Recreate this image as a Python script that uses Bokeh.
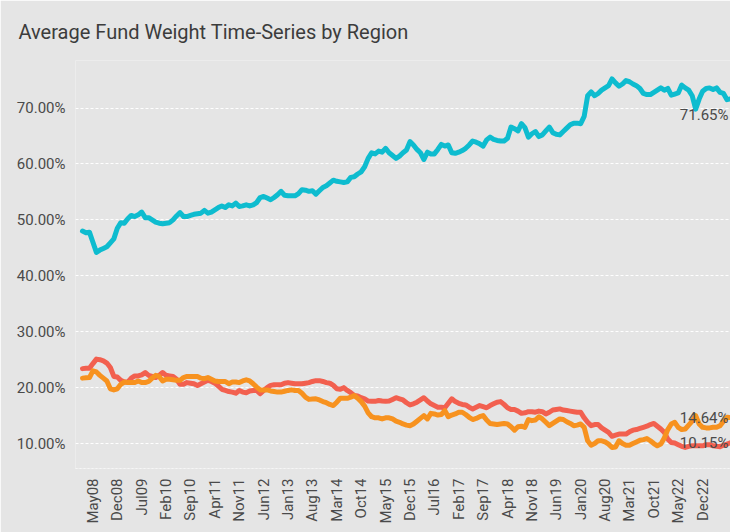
import pandas as pd
from bokeh.plotting import figure
from bokeh.models import Range1d, FixedTicker, NumeralTickFormatter
from bokeh.core.properties import value
from bokeh.embed import file_html
from bokeh.resources import INLINE
from math import pi

# ---------------- data (monthly, Feb08 .. Aug23, percent) ----------------
start_month = "2008-02-01"

blue = [48.0, 47.7, 47.8, 46.0, 44.2, 44.6, 44.9, 45.2, 45.9, 46.6,
        48.5, 49.5, 49.4, 50.2, 50.8, 50.6, 50.9, 51.4, 50.4, 50.4,
        50.0, 49.6, 49.4, 49.3, 49.4, 49.5, 50.0, 50.7, 51.3, 50.6,
        50.6, 50.8, 51.0, 51.1, 51.2, 51.7, 51.2, 51.4, 51.8, 52.2,
        52.5, 52.2, 52.7, 52.5, 53.0, 52.4, 52.5, 52.7, 52.5, 52.7,
        53.1, 54.0, 54.2, 53.9, 53.6, 54.0, 54.5, 55.1, 54.4, 54.3,
        54.3, 54.3, 54.7, 55.4, 55.3, 55.1, 55.2, 54.6, 55.2, 55.8,
        56.1, 56.6, 57.1, 56.9, 56.8, 56.7, 56.8, 57.6, 57.7, 58.2,
        58.6, 59.5, 61.0, 62.0, 61.8, 62.3, 62.1, 62.8, 62.0, 61.5,
        61.0, 61.4, 62.0, 62.5, 64.0, 63.4, 62.6, 62.0, 60.8, 62.1,
        61.8, 61.8, 62.6, 63.5, 63.2, 63.4, 62.0, 61.9, 62.1, 62.4,
        62.8, 63.4, 64.1, 63.9, 63.6, 63.2, 64.3, 64.8, 64.4, 64.2,
        64.1, 64.1, 64.6, 66.6, 66.3, 65.9, 67.2, 66.5, 64.8, 65.4,
        65.8, 64.9, 65.2, 65.9, 66.6, 65.6, 65.3, 65.2, 65.8, 66.4,
        67.0, 67.3, 67.3, 67.2, 68.5, 72.2, 72.9, 72.2, 72.6, 73.2,
        73.6, 74.0, 75.2, 74.5, 73.9, 74.3, 74.9, 74.7, 74.3, 74.0,
        73.5, 72.6, 72.4, 72.4, 72.8, 73.2, 73.6, 73.2, 73.5, 72.3,
        72.5, 72.7, 74.1, 73.6, 73.2, 72.2, 69.8, 71.6, 73.0, 73.5,
        73.6, 73.3, 73.6, 72.8, 72.6, 71.5, 71.65]

red = [23.4, 23.45, 23.45, 24.3, 25.1, 25.0, 24.8, 24.4, 23.6, 22.0,
       21.9, 21.3, 21.0, 21.0, 21.7, 22.1, 22.1, 22.3, 22.7, 22.2,
       22.0, 21.8, 22.2, 22.7, 22.2, 22.1, 22.0, 21.5, 20.6, 20.6,
       20.9, 20.8, 20.7, 20.4, 20.7, 21.0, 21.3, 21.1, 20.8, 20.3,
       19.7, 19.5, 19.3, 19.2, 19.0, 19.5, 19.2, 19.1, 19.4, 19.5,
       19.5, 18.9, 19.5, 20.0, 20.4, 20.5, 20.5, 20.5, 20.8, 20.9,
       20.8, 20.7, 20.7, 20.7, 20.8, 20.9, 21.1, 21.25, 21.25, 21.1,
       20.9, 20.8, 20.4, 19.8, 19.7, 20.0, 19.5, 19.1, 18.6, 18.5,
       18.2, 18.0, 17.6, 17.55, 17.55, 17.7, 17.6, 17.55, 17.6, 17.9,
       18.2, 18.0, 17.8, 17.3, 16.9, 17.1, 17.4, 17.8, 18.2, 17.6,
       17.1, 16.8, 16.5, 16.5, 16.4, 17.2, 18.0, 17.5, 17.2, 17.0,
       16.9, 16.5, 16.2, 16.5, 16.8, 16.6, 16.4, 16.8, 17.1, 17.4,
       17.5, 17.0, 16.4, 16.1, 16.1, 15.8, 15.4, 15.5, 15.7, 15.7,
       15.6, 15.8, 15.7, 15.3, 15.6, 16.0, 16.1, 16.2, 16.0, 15.9,
       15.8, 15.7, 15.6, 15.6, 14.6, 13.8, 13.2, 13.4, 13.4, 12.8,
       12.4, 12.0, 11.3, 11.5, 11.7, 11.7, 11.7, 12.1, 12.4, 12.5,
       12.7, 12.9, 13.1, 13.4, 13.6, 13.1, 12.6, 12.0, 10.8, 10.2,
       10.1, 9.8, 9.5, 9.3, 9.5, 9.6, 9.6, 9.6, 9.6, 9.8,
       9.8, 9.6, 9.5, 9.45, 9.7, 9.9, 10.15]

orange = [21.7, 21.75, 21.8, 23.0, 22.8, 22.2, 21.7, 21.2, 19.8, 19.6,
          19.8, 20.6, 21.0, 20.9, 20.9, 20.9, 21.2, 20.9, 20.9, 21.1,
          21.7, 22.2, 22.0, 21.2, 21.5, 21.5, 21.4, 21.3, 21.3, 21.8,
          22.0, 22.0, 22.0, 22.0, 21.7, 21.6, 21.8, 21.5, 21.2, 21.1,
          21.1, 21.1, 20.7, 21.0, 21.0, 20.9, 21.2, 21.4, 21.2, 20.7,
          20.1, 19.6, 19.6, 19.6, 19.4, 19.3, 19.2, 19.2, 19.35, 19.5,
          19.6, 19.5, 19.5, 19.0, 18.3, 17.9, 17.95, 18.0, 17.8, 17.5,
          17.3, 17.0, 16.8, 17.4, 18.1, 18.1, 18.1, 18.3, 18.6, 18.1,
          17.5, 16.7, 15.5, 14.8, 14.6, 14.6, 14.4, 14.6, 14.6, 14.4,
          14.0, 13.8, 13.5, 13.3, 13.2, 13.5, 14.0, 14.5, 15.0, 14.4,
          15.4, 15.3, 15.1, 15.2, 15.9, 14.8, 15.1, 15.3, 15.6, 15.6,
          15.2, 14.7, 14.3, 14.5, 14.8, 15.0, 14.2, 13.6, 13.5, 13.4,
          13.5, 13.6, 13.5, 13.0, 12.4, 13.0, 13.1, 12.9, 14.3, 14.1,
          14.2, 14.8, 14.4, 13.8, 13.2, 13.6, 14.0, 14.4, 14.3, 13.9,
          13.6, 13.2, 13.3, 13.5, 12.9, 10.5, 9.7, 10.0, 10.5, 10.5,
          10.3, 9.9, 9.3, 9.4, 10.5, 10.0, 9.7, 9.7, 10.0, 10.3,
          10.6, 10.7, 10.9, 10.5, 10.0, 9.6, 9.9, 11.0, 12.5, 13.5,
          13.8, 12.9, 12.5, 12.6, 13.3, 14.0, 15.0, 13.5, 12.9, 12.8,
          12.8, 12.9, 12.9, 13.2, 14.0, 14.7, 14.64]

tick_labels = ["May08", "Dec08", "Jul09", "Feb10", "Sep10", "Apr11", "Nov11",
               "Jun12", "Jan13", "Aug13", "Mar14", "Oct14", "May15", "Dec15",
               "Jul16", "Feb17", "Sep17", "Apr18", "Nov18", "Jun19", "Jan20",
               "Aug20", "Mar21", "Oct21", "May22", "Dec22"]

y_ticks = [0.10, 0.20, 0.30, 0.40, 0.50, 0.60, 0.70]

title_text = "Average Fund Weight Time-Series by Region"

# ---------------- build ----------------
months = [d.strftime("%b%y") for d in pd.date_range(start_month, periods=len(blue), freq="MS")]
xs = list(range(len(months)))
tick_pos = [months.index(t) for t in tick_labels]

BG = "#e5e5e5"
TXT = "#4a4a4a"
FONT = "Roboto"

p = figure(width=730, height=532, output_backend="svg", toolbar_location=None,
           x_range=Range1d(-2.0, 186.0), y_range=Range1d(0.0554, 0.785),
           min_border_left=75, min_border_right=0, min_border_top=59,
           min_border_bottom=64)
p.background_fill_color = BG
p.border_fill_color = BG
p.outline_line_color = None

p.title.text = title_text
p.title.text_font = FONT
p.title.text_font_size = "20px"
p.title.text_font_style = "normal"
p.title.text_color = "#3c3c3c"
p.title.offset = -57
p.title.standoff = 34

# axes
p.yaxis.ticker = FixedTicker(ticks=y_ticks)
p.yaxis.formatter = NumeralTickFormatter(format="0.00%")
p.yaxis.axis_line_color = None
p.yaxis.major_tick_line_color = None
p.yaxis.minor_tick_line_color = None
p.yaxis.major_label_text_font = FONT
p.yaxis.major_label_text_font_size = "15px"
p.yaxis.major_label_text_color = TXT
p.yaxis.major_label_standoff = 4

p.xaxis.ticker = FixedTicker(ticks=tick_pos)
p.xaxis.major_label_overrides = {tp: lab for tp, lab in zip(tick_pos, tick_labels)}
p.xaxis.major_label_orientation = pi / 2
p.xaxis.axis_line_color = "#f6f6f6"
p.xaxis.axis_line_dash = "2 2"
p.xaxis.axis_line_width = 1
p.xaxis.major_tick_line_color = None
p.xaxis.minor_tick_line_color = None
p.xaxis.major_label_text_font = FONT
p.xaxis.major_label_text_font_size = "15px"
p.xaxis.major_label_text_color = TXT
p.xaxis.major_label_standoff = 4

p.xgrid.grid_line_color = None
p.ygrid.grid_line_color = "#ffffff"
p.ygrid.grid_line_dash = "3 2"
p.ygrid.grid_line_width = 1

# lines
series = [(red, "#f2604f"), (orange, "#f7921f"), (blue, "#0ebccf")]
for vals, col in series:
    p.line(xs, [v / 100 for v in vals], line_color=col, line_width=5,
           line_join="round", line_cap="round")

# end labels
last = xs[-1]
for vals, yoff in [(blue, 16), (orange, 0), (red, 0)]:
    p.text(x=[last], y=[vals[-1] / 100], text=["%.2f%%" % vals[-1]],
           text_align="right", text_baseline="middle", x_offset=-2, y_offset=yoff,
           text_font=value(FONT), text_font_size="15px", text_color=TXT)

open("out.html", "w").write(file_html(p, INLINE))
